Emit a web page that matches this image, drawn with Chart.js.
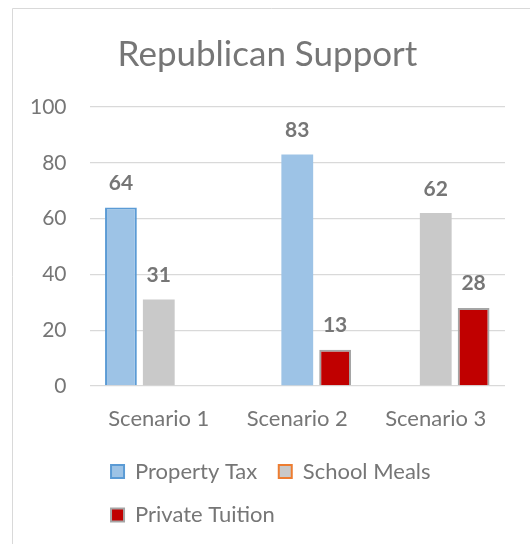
<!DOCTYPE html>
<html lang="en">
<head>
    <meta charset="UTF-8">
    <title>Republican Support</title>
    <script src="https://cdn.jsdelivr.net/npm/chart.js"></script>
    <style>
        body { margin: 0; background: #fff; }
        #wrap { width: 530px; height: 544px; }
    </style>
</head>
<body>
    <div id="wrap"><canvas id="supportChart" width="530" height="544"></canvas></div>

    <script>
        // values
        const categories = ['Scenario 1', 'Scenario 2', 'Scenario 3'];
        const propertyTax = [64, null, null];
        const schoolMeals = [31, 83, 62];
        const privateTuition = [null, 13, 28];
        const yTicks = [0, 20, 40, 60, 80, 100];

        const FONT = 'Lato';
        const TEXT = '#767676';
        const BLUE = '#9dc3e6', BLUE_LINE = '#5b9bd5';
        const GREY = '#c9c9c9', ORANGE_LINE = '#ed7d31';
        const RED = '#c00000', RED_LINE = '#a5a5a5';

        // bold value labels above each bar
        const valueLabels = {
            id: 'valueLabels',
            afterDatasetsDraw(chart) {
                const ctx = chart.ctx;
                ctx.save();
                ctx.font = 'bold 21px ' + FONT;
                ctx.fillStyle = TEXT;
                ctx.textAlign = 'center';
                ctx.textBaseline = 'alphabetic';
                chart.data.datasets.forEach((ds, i) => {
                    chart.getDatasetMeta(i).data.forEach((bar, j) => {
                        if (ds.data[j] == null) return;
                        ctx.fillText(ds.data[j], bar.x, bar.y - 17.5);
                    });
                });
                ctx.restore();
            }
        };

        // chart area frame (only top and left edges are in view)
        const frame = {
            id: 'frame',
            beforeDraw(chart) {
                const ctx = chart.ctx;
                ctx.save();
                ctx.strokeStyle = '#d9d9d9';
                ctx.lineWidth = 1;
                ctx.beginPath();
                ctx.moveTo(12.5, chart.height);
                ctx.lineTo(12.5, 8.5);
                ctx.lineTo(chart.width, 8.5);
                ctx.stroke();
                ctx.restore();
            }
        };

        const legendStyles = [
            { fill: BLUE, line: BLUE_LINE },
            { fill: GREY, line: ORANGE_LINE },
            { fill: RED, line: RED_LINE }
        ];

        new Chart(document.getElementById('supportChart'), {
            type: 'bar',
            data: {
                labels: categories,
                datasets: [{
                    label: 'Property Tax',
                    data: propertyTax,
                    backgroundColor: BLUE,
                    borderColor: BLUE_LINE,
                    borderWidth: 2
                }, {
                    label: 'School Meals',
                    data: schoolMeals,
                    backgroundColor: [GREY, BLUE, GREY],
                    borderWidth: 0
                }, {
                    label: 'Private Tuition',
                    data: privateTuition,
                    backgroundColor: RED,
                    borderColor: RED_LINE,
                    borderWidth: 2
                }]
            },
            options: {
                responsive: false,
                animation: false,
                categoryPercentage: 0.82,
                barPercentage: 0.84,
                layout: { padding: { left: 7, right: 2, top: 0, bottom: 8 } },
                scales: {
                    x: {
                        grid: { display: false },
                        border: { display: false },
                        ticks: { color: TEXT, font: { family: FONT, size: 22 }, padding: 12 },
                        afterFit: (scale) => { scale.height = 53; }
                    },
                    y: {
                        min: 0,
                        max: 100,
                        afterBuildTicks: (scale) => { scale.ticks = yTicks.map(v => ({ value: v })); },
                        grid: { color: '#d9d9d9', lineWidth: 1.3, drawTicks: false },
                        border: { display: false },
                        ticks: { color: TEXT, font: { family: FONT, size: 21 }, padding: 23 }
                    },
                    // empty spacer on the right so the title sits where it does in the original
                    spacer: {
                        position: 'right',
                        grid: { display: false },
                        border: { display: false },
                        ticks: { display: false },
                        afterFit: (scale) => { scale.width = 23; }
                    }
                },
                plugins: {
                    title: {
                        display: true,
                        text: 'Republican Support',
                        color: TEXT,
                        font: { family: FONT, size: 35, weight: 'normal' },
                        padding: { top: 34, bottom: 31 }
                    },
                    legend: {
                        position: 'bottom',
                        fullSize: false,
                        align: 'start',
                        labels: {
                            color: TEXT,
                            font: { family: FONT, size: 22 },
                            boxWidth: 13,
                            boxHeight: 13,
                            padding: 21.5,
                            generateLabels: (chart) => chart.data.datasets.map((ds, i) => ({
                                text: ds.label,
                                fillStyle: legendStyles[i].fill,
                                strokeStyle: legendStyles[i].line,
                                lineWidth: 2,
                                fontColor: TEXT,
                                datasetIndex: i
                            }))
                        }
                    },
                    tooltip: { enabled: false }
                }
            },
            plugins: [valueLabels, frame]
        });
    </script>
</body>
</html>
